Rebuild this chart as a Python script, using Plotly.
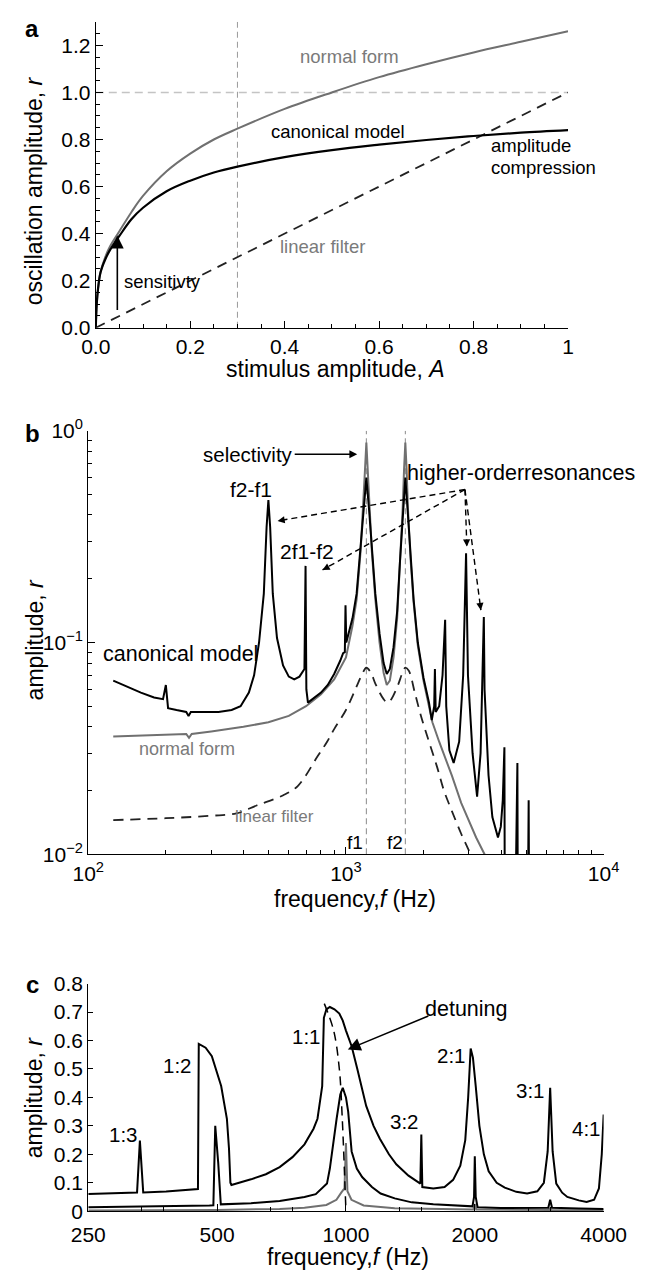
import plotly.graph_objects as go

W, H = 651, 1281
def X(p): return p / W
def Y(p): return 1 - p / H

FONT = "Liberation Sans, Arial, sans-serif"
GRAY = "#707070"
TXTGRAY = "#7a7a7a"

# ---------------- Panel a data ----------------
stim_A = [0, 0.002, 0.005, 0.01, 0.02, 0.03, 0.05, 0.075, 0.1, 0.15, 0.2, 0.25, 0.3, 0.4, 0.5, 0.6, 0.7, 0.8, 0.9, 1.0]
r_normal_a = [0, 0.10, 0.17, 0.235, 0.30, 0.345, 0.41, 0.49, 0.56, 0.665, 0.74, 0.80, 0.846, 0.93, 1.0, 1.065, 1.12, 1.17, 1.215, 1.26]
r_canon_a = [0, 0.10, 0.17, 0.235, 0.29, 0.33, 0.39, 0.46, 0.51, 0.58, 0.625, 0.66, 0.685, 0.725, 0.755, 0.778, 0.798, 0.815, 0.829, 0.84]
stim_lin = [0, 1]
r_lin_a = [0, 1]
a_xticks = [0, 0.2, 0.4, 0.6, 0.8, 1]
a_xticktext = ["0.0", "0.2", "0.4", "0.6", "0.8", "1"]
a_yticks = [0, 0.2, 0.4, 0.6, 0.8, 1.0, 1.2]
a_yticktext = ["0.0", "0.2", "0.4", "0.6", "0.8", "1.0", "1.2"]
a_ref_A = 0.3
a_ref_r = 1.0

# ---------------- Panel b data ----------------
f_canon_b = [125, 140, 160, 180, 195, 200, 204, 220, 240, 245, 250, 280, 320, 360, 390, 420, 440, 460, 480, 492, 500, 508, 520, 540, 570, 600, 630, 660, 690, 697, 702, 712, 740, 800, 850, 900, 950, 975, 990, 996, 1003, 1060, 1100, 1140, 1170, 1200, 1230, 1260, 1300, 1350, 1400, 1440, 1480, 1530, 1580, 1620, 1660, 1700, 1740, 1780, 1830, 1900, 2000, 2100, 2153, 2200, 2214, 2230, 2300, 2370, 2426, 2450, 2520, 2618, 2750, 2850, 2925, 2975, 3100, 3228, 3330, 3428, 3450, 3575, 3700, 3890, 3990, 4060, 4120, 4135, 4540, 4627, 4645, 5080, 5117, 5140]
r_canon_b = [0.066, 0.062, 0.058, 0.055, 0.054, 0.063, 0.049, 0.048, 0.047, 0.045, 0.047, 0.047, 0.047, 0.048, 0.050, 0.058, 0.070, 0.10, 0.17, 0.35, 0.47, 0.35, 0.17, 0.105, 0.078, 0.069, 0.067, 0.069, 0.075, 0.23, 0.060, 0.052, 0.054, 0.058, 0.063, 0.071, 0.082, 0.089, 0.090, 0.15, 0.10, 0.13, 0.17, 0.28, 0.42, 0.60, 0.42, 0.28, 0.17, 0.11, 0.08, 0.071, 0.075, 0.095, 0.14, 0.24, 0.40, 0.60, 0.40, 0.26, 0.16, 0.10, 0.068, 0.052, 0.043, 0.05, 0.075, 0.047, 0.05, 0.07, 0.128, 0.05, 0.031, 0.027, 0.034, 0.07, 0.264, 0.07, 0.03, 0.0187, 0.03, 0.132, 0.06, 0.0236, 0.015, 0.012, 0.0135, 0.018, 0.032, 0.005, 0.005, 0.027, 0.005, 0.005, 0.018, 0.005]
f_normal_b = [125, 180, 240, 246, 252, 300, 400, 500, 600, 700, 800, 900, 1000, 1060, 1100, 1140, 1170, 1185, 1200, 1215, 1230, 1260, 1300, 1350, 1400, 1440, 1480, 1530, 1580, 1620, 1660, 1680, 1700, 1720, 1740, 1780, 1830, 1900, 2000, 2100, 2165, 2300, 2577, 2800, 2970, 3200, 3450, 3700]
r_normal_b = [0.036, 0.0365, 0.037, 0.0355, 0.037, 0.038, 0.040, 0.042, 0.045, 0.050, 0.057, 0.067, 0.085, 0.12, 0.16, 0.27, 0.45, 0.65, 0.88, 0.65, 0.45, 0.27, 0.16, 0.10, 0.072, 0.063, 0.066, 0.085, 0.13, 0.23, 0.43, 0.65, 0.88, 0.65, 0.43, 0.25, 0.155, 0.097, 0.066, 0.050, 0.042, 0.034, 0.0235, 0.0175, 0.0149, 0.012, 0.010, 0.0085]
f_linear_b = [125, 200, 300, 376, 450, 571, 650, 776, 845, 900, 1000, 1100, 1150, 1200, 1250, 1300, 1400, 1450, 1500, 1600, 1650, 1700, 1754, 1850, 1955, 2100, 2254, 2400, 2577, 2800, 2970, 3100]
r_linear_b = [0.0145, 0.0148, 0.0152, 0.0156, 0.017, 0.019, 0.021, 0.029, 0.034, 0.039, 0.048, 0.062, 0.070, 0.076, 0.072, 0.064, 0.054, 0.052, 0.054, 0.064, 0.071, 0.076, 0.0735, 0.058, 0.045, 0.034, 0.026, 0.020, 0.016, 0.0125, 0.0107, 0.0095]
f1_b, f2_b = 1200, 1700
b_xticks = [100, 1000, 10000]
b_xticktext = ["10<sup>2</sup>", "10<sup>3</sup>", "10<sup>4</sup>"]
b_xminor = [200, 300, 400, 500, 600, 700, 800, 900, 2000, 3000, 4000, 5000, 6000, 7000, 8000, 9000]
b_yticks = [0.01, 0.1, 1]
b_yticktext = ["10<sup>\u22122</sup>", "10<sup>\u22121</sup>", "10<sup>0</sup>"]
b_yminor = [0.02, 0.03, 0.04, 0.05, 0.06, 0.07, 0.08, 0.09, 0.2, 0.3, 0.4, 0.5, 0.6, 0.7, 0.8, 0.9]

# ---------------- Panel c data ----------------
f_high_c = [250, 300, 325, 330, 336, 380, 420, 451, 453, 470, 486, 511, 527, 533, 537, 540, 600, 650, 700, 750, 800, 840, 858, 880, 888, 900, 917, 940, 965, 983, 1000, 1031, 1063, 1115, 1160, 1200, 1260, 1311, 1400, 1480, 1492, 1500, 1508, 1600, 1700, 1780, 1850, 1900, 1930, 1956, 1980, 2010, 2050, 2100, 2155, 2250, 2350, 2500, 2650, 2800, 2900, 2960, 3000, 3040, 3100, 3200, 3290, 3500, 3650, 3800, 3900, 3960, 4000]
r_high_c = [0.060, 0.063, 0.066, 0.248, 0.066, 0.069, 0.073, 0.078, 0.588, 0.575, 0.545, 0.44, 0.325, 0.22, 0.10, 0.092, 0.112, 0.13, 0.155, 0.19, 0.235, 0.29, 0.325, 0.44, 0.68, 0.71, 0.718, 0.71, 0.695, 0.67, 0.635, 0.58, 0.50, 0.37, 0.30, 0.255, 0.20, 0.165, 0.125, 0.10, 0.097, 0.27, 0.085, 0.08, 0.085, 0.11, 0.16, 0.25, 0.40, 0.572, 0.54, 0.44, 0.30, 0.20, 0.14, 0.10, 0.083, 0.068, 0.062, 0.07, 0.10, 0.21, 0.434, 0.21, 0.097, 0.065, 0.05, 0.038, 0.032, 0.04, 0.08, 0.2, 0.34]
f_mid_c = [250, 300, 400, 480, 490, 495, 503, 510, 600, 700, 800, 850, 903, 917, 951, 970, 983, 1000, 1012, 1031, 1060, 1091, 1150, 1205, 1300, 1425, 1600, 1835, 1975, 1992, 2000, 2010, 2030, 2300, 2700, 2970, 3000, 3030, 3500, 4000]
r_mid_c = [0.014, 0.015, 0.017, 0.020, 0.021, 0.30, 0.17, 0.024, 0.028, 0.036, 0.050, 0.060, 0.097, 0.15, 0.325, 0.41, 0.434, 0.40, 0.35, 0.21, 0.15, 0.12, 0.085, 0.062, 0.045, 0.031, 0.024, 0.020, 0.017, 0.05, 0.193, 0.05, 0.014, 0.011, 0.010, 0.012, 0.04, 0.012, 0.009, 0.008]
f_low_c = [250, 500, 700, 800, 900, 950, 975, 992, 1000, 1008, 1030, 1100, 1300, 1700, 1985, 2000, 2015, 2985, 3000, 3015, 4000]
r_low_c = [0.002, 0.004, 0.008, 0.012, 0.022, 0.040, 0.065, 0.08, 0.24, 0.07, 0.04, 0.02, 0.01, 0.006, 0.006, 0.025, 0.006, 0.004, 0.012, 0.004, 0.003]
f_backbone_c = [890, 936, 965, 980, 993, 1000]
r_backbone_c = [0.73, 0.635, 0.50, 0.33, 0.12, 0.0]
c_xticks = [250, 500, 1000, 2000, 4000]
c_xticktext = ["250", "500", "1000", "2000", "4000"]
c_xminor = [333.3, 375, 666.7, 750, 1333.3, 1500, 2666.7, 3000]
c_yticks = [0, 0.1, 0.2, 0.3, 0.4, 0.5, 0.6, 0.7, 0.8]
c_yticktext = ["0", "0.1", "0.2", "0.3", "0.4", "0.5", "0.6", "0.7", "0.8"]

fig = go.Figure()

# panel a traces
fig.add_trace(go.Scatter(x=[a_ref_A, a_ref_A], y=[0, 1.3], mode="lines",
                         line=dict(color="#9a9a9a", width=1, dash="6px,4px"), xaxis="x", yaxis="y"))
fig.add_trace(go.Scatter(x=[0, 1], y=[a_ref_r, a_ref_r], mode="lines",
                         line=dict(color="#c4c4c4", width=1.4, dash="8px,5px"), xaxis="x", yaxis="y"))
fig.add_trace(go.Scatter(x=stim_lin, y=r_lin_a, mode="lines",
                         line=dict(color="#222", width=1.8, dash="10px,7px"), xaxis="x", yaxis="y"))
fig.add_trace(go.Scatter(x=stim_A, y=r_normal_a, mode="lines", line_shape="spline",
                         line=dict(color=GRAY, width=2), xaxis="x", yaxis="y"))
fig.add_trace(go.Scatter(x=stim_A, y=r_canon_a, mode="lines", line_shape="spline",
                         line=dict(color="black", width=2.2), xaxis="x", yaxis="y"))

# panel b traces
for fv in (f1_b, f2_b):
    fig.add_trace(go.Scatter(x=[fv, fv], y=[0.01, 1], mode="lines",
                             line=dict(color="#8a8a8a", width=1, dash="6px,4px"), xaxis="x2", yaxis="y2"))
fig.add_trace(go.Scatter(x=f_linear_b, y=r_linear_b, mode="lines", line_shape="spline",
                         line=dict(color="#222", width=1.8, dash="10px,7px"), xaxis="x2", yaxis="y2"))
fig.add_trace(go.Scatter(x=f_normal_b, y=r_normal_b, mode="lines",
                         line=dict(color=GRAY, width=2), xaxis="x2", yaxis="y2"))
fig.add_trace(go.Scatter(x=f_canon_b, y=r_canon_b, mode="lines",
                         line=dict(color="black", width=2), xaxis="x2", yaxis="y2"))

# panel c traces
fig.add_trace(go.Scatter(x=f_low_c, y=r_low_c, mode="lines",
                         line=dict(color=GRAY, width=2), xaxis="x3", yaxis="y3"))
fig.add_trace(go.Scatter(x=f_mid_c, y=r_mid_c, mode="lines",
                         line=dict(color="black", width=2), xaxis="x3", yaxis="y3"))
fig.add_trace(go.Scatter(x=f_high_c, y=r_high_c, mode="lines",
                         line=dict(color="black", width=2), xaxis="x3", yaxis="y3"))
fig.add_trace(go.Scatter(x=f_backbone_c, y=r_backbone_c, mode="lines", line_shape="spline",
                         line=dict(color="black", width=1.5, dash="9px,6px"), xaxis="x3", yaxis="y3"))

axis_common = dict(showline=True, linecolor="black", linewidth=1.3, ticks="inside", ticklen=7,
                   tickcolor="black", tickwidth=1.2, showgrid=False, zeroline=False,
                   tickfont=dict(family=FONT, size=21, color="black"), mirror=False)

fig.update_layout(
    width=W, height=H, margin=dict(l=0, r=0, t=0, b=0),
    paper_bgcolor="white", plot_bgcolor="white", showlegend=False,
    font=dict(family=FONT, color="black"),
    xaxis=dict(domain=[X(83), X(587)], range=[0, 1], tickmode="array", tickvals=a_xticks, ticktext=a_xticktext,
               minor=dict(dtick=0.05, ticks="inside", ticklen=4, tickcolor="black"), anchor="y", **axis_common),
    yaxis=dict(domain=[Y(320), Y(8)], range=[0, 1.3], tickmode="array", tickvals=a_yticks, ticktext=a_yticktext,
               minor=dict(dtick=0.05, ticks="inside", ticklen=4, tickcolor="black"), anchor="x", **axis_common),
    xaxis2=dict(domain=[X(75), X(625)], type="log", range=[2, 4], tickmode="array", tickvals=b_xticks,
                ticktext=b_xticktext, minor=dict(tickmode="array", tickvals=b_xminor, ticks="inside", ticklen=4,
                tickcolor="black"), anchor="y2", **axis_common),
    yaxis2=dict(domain=[Y(857), Y(425)], type="log", range=[-2, 0], tickmode="array", tickvals=b_yticks,
                ticktext=b_yticktext, minor=dict(tickmode="array", tickvals=b_yminor, ticks="inside", ticklen=4,
                tickcolor="black"), anchor="x2", **axis_common),
    xaxis3=dict(domain=[X(75), X(625)], type="log", range=[2.39794, 3.60206], tickmode="array", tickvals=c_xticks,
                ticktext=c_xticktext, minor=dict(tickmode="array", tickvals=c_xminor, ticks="inside", ticklen=4,
                tickcolor="black"), anchor="y3", ticklabelstandoff=4, **axis_common),
    yaxis3=dict(domain=[Y(1221), Y(989)], range=[0, 0.8], tickmode="array", tickvals=c_yticks,
                ticktext=c_yticktext, anchor="x3", **{**axis_common, "ticklen": 5}),
)

ann = []
def txt(x, y, s, size=19, color="black", bold=False, angle=0, xanchor="center"):
    ann.append(dict(x=X(x), y=Y(y), xref="paper", yref="paper", text=("<b>%s</b>" % s) if bold else s,
                    showarrow=False, textangle=angle, xanchor=xanchor, yanchor="middle",
                    font=dict(family=FONT, size=size, color=color)))

def arrow(hx, hy, tx, ty, width=1.5, head=2, size=1.0, color="black"):
    ann.append(dict(x=X(hx), y=Y(hy), xref="paper", yref="paper", ax=tx - hx, ay=ty - hy,
                    axref="pixel", ayref="pixel", text="", showarrow=True, arrowhead=head,
                    arrowsize=size, arrowwidth=width, arrowcolor=color))

# panel labels
txt(15, 15, "a", size=24, bold=True)
txt(15, 428, "b", size=24, bold=True)
txt(15, 990, "c", size=24, bold=True)

# axis titles
txt(18, 180, "oscillation amplitude, <i>r</i>", size=23, angle=-90)
txt(339, 362, "stimulus amplitude, <i>A</i>", size=23)
txt(18, 638, "amplitude, <i>r</i>", size=23, angle=-90)
txt(360, 903, "frequency,<i>f</i> (Hz)", size=23)
txt(18, 1105, "amplitude, <i>r</i>", size=23, angle=-90)
txt(352, 1268, "frequency,<i>f</i> (Hz)", size=23)

# panel a labels
txt(354, 43, "normal form", size=18.5, color=TXTGRAY)
txt(342, 120, "canonical model", size=18.5)
txt(503, 134, "amplitude", size=18.5, xanchor="left")
txt(503, 157, "compression", size=18.5, xanchor="left")
txt(325, 237, "linear filter", size=18.5, color=TXTGRAY)
txt(111, 273, "sensitivty", size=18.5, xanchor="left")
arrow(106, 226, 106, 302, width=1.6, head=2, size=1.6)

# panel b labels
txt(245, 449, "selectivity", size=20.5)
arrow(362, 449, 298, 449, width=1.3, head=2, size=1.2)
txt(249, 485, "f2-f1", size=21)
txt(308, 548, "2f1-f2", size=21)
txt(537, 468, "higher-orderresonances", size=21.5)
txt(173, 653, "canonical model", size=21.5)
txt(180, 750, "normal form", size=18, color=TXTGRAY)
txt(274, 818, "linear filter", size=17, color=TXTGRAY)
txt(360, 845, "f1", size=19)
txt(402, 845, "f2", size=19)

shapes = []
O = (477, 485)
heads = [(277, 517), (325, 567), (479, 543), (494, 608)]
for hx, hy in heads:
    shapes.append(dict(type="line", xref="paper", yref="paper", x0=X(O[0]), y0=Y(O[1]), x1=X(hx), y1=Y(hy),
                       line=dict(color="black", width=1.4, dash="6px,4px")))
    dx, dy = O[0] - hx, O[1] - hy
    L = (dx * dx + dy * dy) ** 0.5
    arrow(hx, hy, hx + dx / L * 8, hy + dy / L * 8, width=1.3, head=2, size=1.1)

# panel c labels
txt(113, 1143, "1:3", size=20.5)
txt(170, 1072, "1:2", size=20.5)
txt(308, 1043, "1:1", size=20.5)
txt(479, 1015, "detuning", size=21.5)
arrow(352, 1056, 434, 1022, width=1.6, head=2, size=1.6)
txt(463, 1062, "2:1", size=20.5)
txt(413, 1130, "3:2", size=20.5)
txt(547, 1098, "3:1", size=20.5)
txt(607, 1137, "4:1", size=20.5)

fig.update_layout(annotations=ann, shapes=shapes)
fig.write_html("out.html")
